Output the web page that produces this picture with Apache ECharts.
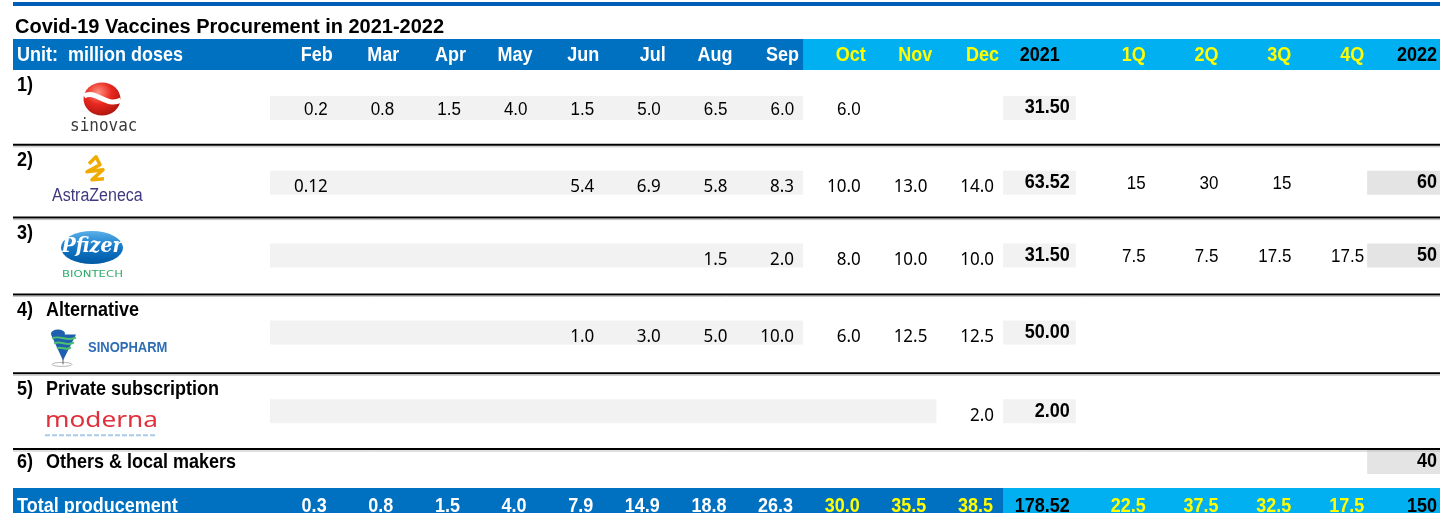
<!doctype html>
<html>
<head>
<meta charset="utf-8">
<title>Covid-19 Vaccines Procurement in 2021-2022</title>
<style>
html,body{margin:0;padding:0;background:#fff;}
#table{width:1440px;height:513px;}
</style>
</head>
<body>
<div id="table"></div>
<script src="https://cdn.jsdelivr.net/npm/echarts@6.0.0/dist/echarts.min.js"></script>
<script>
// columns
var months = ['Feb','Mar','Apr','May','Jun','Jul','Aug','Sep','Oct','Nov','Dec'];
var yearCols = ['2021','1Q','2Q','3Q','4Q','2022'];
var rowNums = ['1)','2)','3)','4)','5)'];
var rowNames = ['','','','Alternative','Private subscription'];
var othersNum = '6)', othersName = 'Others & local makers';
var unitLabel = 'Unit:  million doses';
var totalLabel = 'Total producement';

// monthly deliveries 2021 (million doses)
var sinovac     = [0.2, 0.8, 1.5, 4.0, 1.5, 5.0, 6.5, 6.0, 6.0, null, null];
var astrazeneca = [0.12, null, null, null, 5.4, 6.9, 5.8, 8.3, 10.0, 13.0, 14.0];
var pfizer      = [null, null, null, null, null, null, 1.5, 2.0, 8.0, 10.0, 10.0];
var sinopharm   = [null, null, null, null, 1.0, 3.0, 5.0, 10.0, 6.0, 12.5, 12.5];
var moderna     = [null, null, null, null, null, null, null, null, null, null, 2.0];
var sum2021     = [31.50, 63.52, 31.50, 50.00, 2.00];
// 2022 by quarter
var astrazenecaQ = [15, 30, 15, null];
var pfizerQ      = [7.5, 7.5, 17.5, 17.5];
var sum2022      = [null, 60, 50, null, null];
var others2022   = 40;
// totals
var totalMonthly = [0.3, 0.8, 1.5, 4.0, 7.9, 14.9, 18.8, 26.3, 30.0, 35.5, 38.5];
var total2021 = 178.52;
var totalQ = [22.5, 37.5, 32.5, 17.5];
var total2022 = 150;
// last month with grey shading per row
var shadedUntil = ['Sep','Sep','Sep','Sep','Nov'];

var monthly = [sinovac, astrazeneca, pfizer, sinopharm, moderna];
var quarterly = [null, astrazenecaQ, pfizerQ, null, null];

// 样式
var FONT = '"Liberation Sans", Arial, sans-serif';
var BOLD = 'bold 18px ' + FONT;
var REG = '17px ' + FONT;
var NOTO = '17px "Noto Sans", sans-serif';
var DARK = '#0070C0', LIGHT = '#00B0F0', YELLOW = '#FFFF00';
var SHADE = '#F2F2F2', SHADE2 = '#E4E4E4';
var W = 1440, X0 = 13, NUM_X = 17, NAME_X = 46;
var lightFrom = months.indexOf('Oct');
var rowShift = [0, -1, -4, -3, 0];   // rows are not all the same height

var bands = [
  {top: 39, height: 31, rows: 1},   // header
  {top: 70, height: 379, rows: 5},  // vaccines
  {top: 449, height: 39, rows: 1},  // others
  {top: 488, height: 25, rows: 1}   // total
];
var groups = [
  {left: 270, width: 733, cols: months},
  {left: 1003, width: 437, cols: yearCols}
];

function fmt(v, d) {
  if (d == null) {
    var s = String(v), p = s.indexOf('.');
    d = Math.max(1, p < 0 ? 0 : s.length - p - 1);
  }
  return v.toFixed(d);
}
function boxOf(api, c, r) {
  var p = api.coord([c, r]);
  var s = api.size([1, 1]);
  return {l: p[0] - s[0] / 2, r: p[0] + s[0] / 2, t: p[1] - s[1] / 2, b: p[1] + s[1] / 2,
          cx: p[0], cy: p[1], w: s[0], h: s[1]};
}
function rect(x, y, w, h, fill, z2) {
  return {type: 'rect', shape: {x: x, y: y, width: w, height: h}, style: {fill: fill}, z2: z2 || 0};
}
function text(x, y, s, font, fill, align) {
  return {type: 'text', x: x, y: y, scaleY: 1.1, z2: 10,
          style: {text: s, font: font, fill: fill, align: align || 'right', verticalAlign: 'middle'}};
}
function line(x1, y1, x2, y2, stroke, w) {
  return {type: 'line', shape: {x1: x1, y1: y1, x2: x2, y2: y2}, style: {stroke: stroke, lineWidth: w}, z2: 5};
}

// logos (drawn relative to row top)
var logos = [
  function (t) {
    return [
      {type: 'circle', x: 102, y: t + 29, scaleX: 1.12, shape: {cx: 0, cy: 0, r: 16.5}, z2: 3,
       style: {fill: {type: 'radial', x: 0.4, y: 0.3, r: 0.8, colorStops: [
         {offset: 0, color: '#FF9080'}, {offset: 0.45, color: '#E8281E'}, {offset: 1, color: '#A3120D'}]}}},
      {type: 'bezierCurve', z2: 4, style: {stroke: '#fff', lineWidth: 5, fill: null},
       shape: {x1: 84, y1: t + 26, cpx1: 96, cpy1: t + 19, cpx2: 106, cpy2: t + 38, x2: 121, y2: t + 30}},
      text(70, t + 56, 'sinovac', '16px "DejaVu Sans Mono", monospace', '#3a3a3a', 'left')
    ];
  },
  function (t) {
    return [
      {type: 'polyline', z2: 4, style: {stroke: '#F0AB00', lineWidth: 3.5, fill: null, lineJoin: 'round'},
       shape: {points: [[89, t + 19], [96, t + 12], [100, t + 20], [87, t + 27], [103, t + 25], [92, t + 35], [104, t + 34]]}},
      text(52, t + 51, 'AstraZeneca', '16px ' + FONT, '#3D3A7F', 'left')
    ];
  },
  function (t) {
    return [
      {type: 'circle', x: 92, y: t + 30, scaleY: 16.5 / 31, shape: {cx: 0, cy: 0, r: 31}, z2: 3,
       style: {fill: {type: 'linear', x: 0, y: 0, x2: 0, y2: 1, colorStops: [
         {offset: 0, color: '#5AB0E8'}, {offset: 0.5, color: '#1378C8'}, {offset: 1, color: '#0058A3'}]}}},
      text(92, t + 29, 'Pfizer', 'italic bold 19px "DejaVu Serif", serif', '#fff', 'center'),
      {type: 'text', x: 62, y: t + 57, scaleX: 1.3, z2: 10,
       style: {text: 'BIONTECH', font: '9px "DejaVu Sans", sans-serif', fill: '#2DAA6A', align: 'left', verticalAlign: 'middle'}}
    ];
  },
  function (t) {
    return [
      {type: 'circle', x: 62, y: t + 70, scaleY: 0.2, shape: {cx: 0, cy: 0, r: 10}, z2: 3,
       style: {fill: null, stroke: '#888', lineWidth: 1}},
      line(63, t + 64, 63, t + 70, '#666', 1),
      {type: 'polygon', shape: {points: [[51, t + 40], [76, t + 40], [63, t + 66]]}, style: {fill: '#1F5FAF'}, z2: 3},
      {type: 'circle', x: 58, y: t + 39, scaleY: 0.55, shape: {cx: 0, cy: 0, r: 7}, style: {fill: '#1F5FAF'}, z2: 4},
      {type: 'bezierCurve', z2: 5, style: {stroke: '#4CC36A', lineWidth: 2, fill: null},
       shape: {x1: 52, y1: t + 44, cpx1: 60, cpy1: t + 40, cpx2: 68, cpy2: t + 48, x2: 76, y2: t + 43}},
      {type: 'bezierCurve', z2: 5, style: {stroke: '#4CC36A', lineWidth: 2, fill: null},
       shape: {x1: 54, y1: t + 49, cpx1: 61, cpy1: t + 45, cpx2: 67, cpy2: t + 53, x2: 74, y2: t + 48}},
      {type: 'bezierCurve', z2: 5, style: {stroke: '#4CC36A', lineWidth: 2, fill: null},
       shape: {x1: 57, y1: t + 54, cpx1: 62, cpy1: t + 51, cpx2: 66, cpy2: t + 57, x2: 71, y2: t + 53}},
      text(88, t + 54, 'SINOPHARM', 'bold 13px ' + FONT, '#2E6DB4', 'left')
    ];
  },
  function (t) {
    return [
      {type: 'text', x: 45, y: t + 48, scaleX: 1.19, z2: 10,
       style: {text: 'moderna', font: '22px "Noto Sans", sans-serif', fill: '#E0303B', align: 'left', verticalAlign: 'middle'}},
      {type: 'line', shape: {x1: 45, y1: t + 62, x2: 157, y2: t + 62}, z2: 5,
       style: {stroke: '#A9CBEA', lineWidth: 2, lineDash: [5, 2]}}
    ];
  }
];

// cells per grid: [band][group]
var cells = [[[], []], [[], []], [[], []], [[], []]];

// header
months.forEach(function (m, i) {
  cells[0][0].push({c: i, r: 0, draw: function (api, b) {
    var out = [rect(b.l, b.t, b.w + 1, b.h, i < lightFrom ? DARK : LIGHT)];
    if (i === 0) {
      out.push(rect(X0, b.t, b.l - X0, b.h, DARK));
      out.push(text(NUM_X, b.cy + 1, unitLabel, BOLD, '#fff', 'left'));
    }
    out.push(text(b.r - 4, b.cy + 1, m, BOLD, i < lightFrom ? '#fff' : YELLOW));
    return out;
  }});
});
yearCols.forEach(function (y, i) {
  var isYear = i === 0 || i === yearCols.length - 1;
  cells[0][1].push({c: i, r: 0, draw: function (api, b) {
    return [rect(b.l, b.t, b.w + 1, b.h, LIGHT),
            text(b.r - (i === 0 ? 16 : 3), b.cy + 1, y, BOLD, isYear ? '#000' : YELLOW)];
  }});
});

// vaccine rows
monthly.forEach(function (vals, r) {
  var dy = rowShift[r];
  cells[1][0].push({c: 0, r: r, draw: function (api, b) {
    var t = b.t + dy;
    var e = boxOf(api, months.indexOf(shadedUntil[r]), r);
    var sep = b.b + (rowShift[r + 1] || 0);
    var out = [rect(b.l, t + 26, e.r - b.l, 24, SHADE, 0),
               text(NUM_X, t + 16, rowNums[r], BOLD, '#000', 'left')];
    if (rowNames[r]) out.push(text(NAME_X, t + 16, rowNames[r], BOLD, '#000', 'left'));
    out = out.concat(logos[r](t));
    out.push(line(X0, sep, W, sep, '#000', 2));
    out.push(line(X0, sep + 2, W, sep + 2, '#BFBFBF', 1));
    return out;
  }});
  vals.forEach(function (v, i) {
    if (v == null) return;
    cells[1][0].push({c: i, r: r, draw: function (api, b) {
      var t = b.t + dy;
      return r === 0 ? [text(b.r - 9, t + 40, fmt(v), REG, '#000')]
                     : [text(b.r - 9, t + 42, fmt(v), NOTO, '#000')];
    }});
  });
  cells[1][1].push({c: 0, r: r, draw: function (api, b) {
    var t = b.t + dy;
    return [rect(b.l, t + 26, b.w, 24, SHADE, 0),
            text(b.r - 6, t + 38, fmt(sum2021[r], 2), BOLD, '#000')];
  }});
  (quarterly[r] || []).forEach(function (v, q) {
    if (v == null) return;
    cells[1][1].push({c: q + 1, r: r, draw: function (api, b) {
      return [text(b.r - 3, b.t + dy + 39, String(v), REG, '#000')];
    }});
  });
  if (sum2022[r] != null) {
    cells[1][1].push({c: 5, r: r, draw: function (api, b) {
      var t = b.t + dy;
      return [rect(b.l, t + 26, b.w, 24, SHADE2, 0),
              text(b.r - 3, t + 38, String(sum2022[r]), BOLD, '#000')];
    }});
  }
});

// others row
cells[2][0].push({c: 0, r: 0, draw: function (api, b) {
  return [text(NUM_X, b.t + 14, othersNum, BOLD, '#000', 'left'),
          text(NAME_X, b.t + 14, othersName, BOLD, '#000', 'left')];
}});
cells[2][1].push({c: 5, r: 0, draw: function (api, b) {
  return [rect(b.l, b.t + 1, b.w, 24, SHADE2, 0),
          text(b.r - 3, b.t + 13, String(others2022), BOLD, '#000')];
}});

// total row
totalMonthly.forEach(function (v, i) {
  cells[3][0].push({c: i, r: 0, draw: function (api, b) {
    var out = [rect(b.l, b.t, b.w + 1, b.h, DARK)];
    if (i === 0) {
      out.push(rect(X0, b.t, b.l - X0, b.h, DARK));
      out.push(text(NUM_X, b.cy + 6, totalLabel, BOLD, '#fff', 'left'));
    }
    out.push(text(b.r - 10, b.cy + 6, fmt(v, 1), BOLD, i < lightFrom ? '#fff' : YELLOW));
    return out;
  }});
});
[total2021].concat(totalQ, [total2022]).forEach(function (v, i) {
  var isYear = i === 0 || i === yearCols.length - 1;
  cells[3][1].push({c: i, r: 0, draw: function (api, b) {
    var s = i === 0 ? fmt(v, 2) : (isYear ? String(v) : fmt(v, 1));
    return [rect(b.l, b.t, b.w + 1, b.h, LIGHT),
            text(b.r - (i === 0 ? 6 : 3), b.cy + 6, s, BOLD, isYear ? '#000' : YELLOW)];
  }});
});

var grids = [], xAxes = [], yAxes = [], series = [];
bands.forEach(function (band, bi) {
  groups.forEach(function (g, gi) {
    var idx = grids.length;
    var rows = [];
    for (var k = 0; k < band.rows; k++) rows.push(String(k));
    grids.push({left: g.left, top: band.top, width: g.width, height: band.height, show: false});
    xAxes.push({type: 'category', gridIndex: idx, data: g.cols, show: false});
    yAxes.push({type: 'category', gridIndex: idx, data: rows, inverse: true, show: false});
    var list = cells[bi][gi];
    series.push({
      type: 'custom',
      coordinateSystem: 'cartesian2d',
      xAxisIndex: idx,
      yAxisIndex: idx,
      clip: false,
      silent: true,
      data: list.map(function (d) { return [d.c, d.r]; }),
      renderItem: function (params, api) {
        var d = list[params.dataIndex];
        return {type: 'group', children: d.draw(api, boxOf(api, d.c, d.r))};
      }
    });
  });
});

var chart = echarts.init(document.getElementById('table'));
chart.setOption({
  animation: false,
  title: {
    text: 'Covid-19 Vaccines Procurement in 2021-2022',
    left: 15, top: 17, padding: 0,
    textStyle: {fontFamily: FONT, fontSize: 20, fontWeight: 'bold', color: '#000'}
  },
  graphic: [{type: 'rect', shape: {x: X0, y: 2, width: W - X0, height: 4}, style: {fill: '#005EB8'}}],
  grid: grids,
  xAxis: xAxes,
  yAxis: yAxes,
  series: series
});
</script>
</body>
</html>
